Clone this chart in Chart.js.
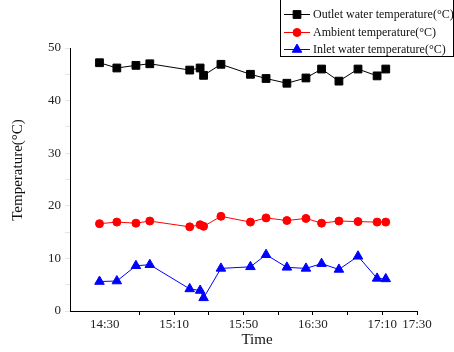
<!DOCTYPE html>
<html>
<head>
<meta charset="utf-8">
<script src="https://cdn.jsdelivr.net/npm/chart.js@4"></script>
<style>
    html, body { margin: 0; padding: 0; background: #fff; }
    #wrap { width: 454px; height: 352px; position: relative; }
</style>
</head>
<body>
<div id="wrap"><canvas id="tempChart"></canvas></div>
<script>
// sample times, minutes since midnight
const timeMinutes = [867, 877, 888, 896, 919, 925, 927, 937, 954, 963, 975, 986, 995, 1005, 1016, 1027, 1032];
const outletTemp = [47.2, 46.2, 46.7, 47.0, 45.8, 46.2, 44.8, 46.9, 45.0, 44.2, 43.3, 44.3, 46.0, 43.7, 46.0, 44.7, 46.0];
const ambientTemp = [16.6, 16.9, 16.7, 17.1, 16.0, 16.4, 16.1, 18.0, 16.9, 17.7, 17.2, 17.6, 16.7, 17.1, 17.0, 16.9, 16.9];
const inletTemp = [5.6, 5.7, 8.6, 8.8, 4.2, 3.9, 2.5, 8.1, 8.4, 10.7, 8.3, 8.1, 9.0, 7.9, 10.4, 6.2, 6.1];
const xLabelTicks = [870, 910, 950, 990, 1030, 1050];
const seriesNames = ["Outlet water temperature(°C)", "Ambient temperature(°C)", "Inlet water temperature(°C)"];

const serif = "'Liberation Serif', 'DejaVu Serif', serif";

function fmtTime(m) {
    const h = Math.floor(m / 60);
    const mm = m % 60;
    return h + ":" + String(mm).padStart(2, "0");
}

function toPoints(vals) {
    return vals.map((v, i) => ({ x: timeMinutes[i], y: v }));
}

// legend box + axis titles drawn by hand
const extras = {
    id: "extras",
    afterDraw(chart) {
        const ctx = chart.ctx;
        ctx.save();

        // axis titles
        ctx.fillStyle = "#111";
        ctx.font = "15px " + serif;
        ctx.textAlign = "center";
        ctx.textBaseline = "middle";
        ctx.fillText("Time", 257, 340);
        ctx.save();
        ctx.translate(18, 170);
        ctx.rotate(-Math.PI / 2);
        ctx.fillText("Temperature(°C)", 0, 0);
        ctx.restore();

        // legend frame
        ctx.strokeStyle = "#000";
        ctx.lineWidth = 1;
        ctx.strokeRect(280.5, -1, 173, 57.5);

        const rows = [14, 32, 49];
        ctx.textAlign = "left";
        ctx.font = "12px " + serif;
        chart.data.datasets.forEach((ds, i) => {
            const y = rows[i];
            ctx.strokeStyle = ds.borderColor;
            ctx.beginPath();
            ctx.moveTo(284, y + 0.5);
            ctx.lineTo(310, y + 0.5);
            ctx.stroke();
            ctx.fillStyle = ds.backgroundColor;
            Chart.helpers.drawPoint(ctx, {
                pointStyle: ds.pointStyle,
                radius: ds.pointRadius,
                borderWidth: 1
            }, 297, y + 0.5);
            ctx.fillStyle = "#111";
            ctx.fillText(seriesNames[i], 313, y + 1);
        });
        ctx.restore();
    }
};

const ctx = document.getElementById("tempChart").getContext("2d");

new Chart(ctx, {
    type: "line",
    data: {
        datasets: [
            {
                label: seriesNames[0],
                data: toPoints(outletTemp),
                borderColor: "#000",
                backgroundColor: "#000",
                pointStyle: "rect",
                pointRadius: 5.5,
                borderWidth: 1
            },
            {
                label: seriesNames[1],
                data: toPoints(ambientTemp),
                borderColor: "#ff0000",
                backgroundColor: "#ff0000",
                pointStyle: "circle",
                pointRadius: 4,
                borderWidth: 1
            },
            {
                label: seriesNames[2],
                data: toPoints(inletTemp),
                borderColor: "#0000ff",
                backgroundColor: "#0000ff",
                pointStyle: "triangle",
                pointRadius: 5.5,
                borderWidth: 1
            }
        ]
    },
    options: {
        responsive: true,
        maintainAspectRatio: false,
        animation: false,
        events: [],
        layout: { padding: { left: 0, top: 48, right: 37, bottom: 0 } },
        plugins: {
            legend: { display: false },
            tooltip: { enabled: false }
        },
        scales: {
            x: {
                type: "linear",
                min: 850,
                max: 1050,
                afterFit: (s) => { s.height = 41; },
                afterBuildTicks: (s) => {
                    const t = [];
                    for (let v = 850; v <= 1050; v += 20) t.push({ value: v });
                    s.ticks = t;
                },
                border: { display: true, color: "#000", width: 1 },
                grid: {
                    drawOnChartArea: false,
                    drawTicks: true,
                    tickLength: 4,
                    tickColor: (c) => (c.tick && (c.tick.value === 850 || c.tick.value === 870)) ? "rgba(0,0,0,0)" : "#000"
                },
                ticks: {
                    autoSkip: false,
                    maxRotation: 0,
                    padding: 2,
                    color: "#222",
                    font: { family: serif, size: 13 },
                    callback: (v) => xLabelTicks.includes(v) ? fmtTime(v) : ""
                }
            },
            y: {
                min: 0,
                max: 50,
                afterFit: (s) => { s.width = 70; },
                border: { display: true, color: "#000", width: 1 },
                grid: {
                    drawOnChartArea: false,
                    drawTicks: true,
                    tickLength: 5
                },
                ticks: {
                    stepSize: 5,
                    padding: 4,
                    color: "#222",
                    font: { family: serif, size: 13 },
                    callback: (v) => v % 10 === 0 ? v : ""
                }
            }
        }
    },
    plugins: [extras]
});
</script>
</body>
</html>
